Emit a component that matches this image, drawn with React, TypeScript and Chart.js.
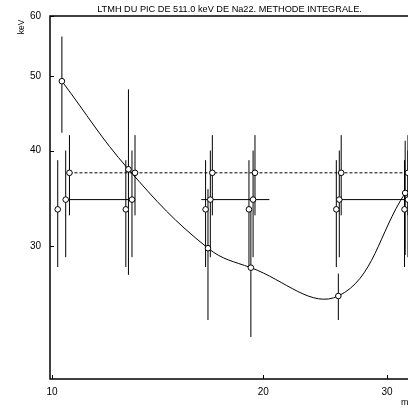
import React, { useEffect, useRef } from "react";
import { Chart, registerables } from "chart.js";

Chart.register(...registerables);

// ---- Text ----
const titleText = "LTMH DU PIC DE 511.0 keV DE Na22. METHODE INTEGRALE.";
const yAxisLabel = "keV";
const xAxisLabel = "m";

// ---- Tick values ----
const xTickValues = [10, 20, 30];
const yTickValues = [30, 40, 50, 60];

// ---- Series A (open circles, no line) ----
const aX = [10.19, 12.74, 16.55, 19.08, 25.41, 31.78];
const aY = [33.5, 33.5, 33.5, 33.5, 33.5, 33.5];
const aErr = [5.35, 5.35, 5.35, 5.35, 5.35, 5.35];

// ---- Series B (open circles, solid segments) ----
const bX = [10.46, 13.0, 16.81, 19.34, 25.66, 32.14];
const bY = [34.5, 34.5, 34.5, 34.5, 34.5, 34.5];
const bErr = [5.5, 5.5, 5.5, 5.5, 5.5, 5.5];
const bSegStart = [10.46, 16.32, 25.66];
const bSegEnd = [13.0, 20.4, 32.14];
const bSegY = [34.5, 34.5, 34.5];

// ---- Series C (open circles, dashed line) ----
const cX = [10.59, 13.13, 16.92, 19.46, 25.82, 32.14];
const cY = [37.4, 37.4, 37.4, 37.4, 37.4, 37.4];
const cErr = [4.5, 4.5, 4.5, 4.5, 4.5, 4.5];

// ---- Series D (open circles, smooth curve) ----
const dX = [10.33, 12.85, 16.68, 19.2, 25.58, 31.85];
const dY = [49.3, 37.8, 29.8, 28.1, 25.8, 35.2];
const dErr = [7.1, 10.3, 5.8, 5.3, 1.8, 6.0];

const FONT = "'Liberation Sans', Arial, Helvetica, sans-serif";

const pts = (xs: number[], ys: number[]) => xs.map((x, i) => ({ x, y: ys[i] }));

export default function App() {
  const ref = useRef<HTMLCanvasElement | null>(null);

  useEffect(() => {
    document.body.style.margin = "0";
    document.body.style.overflow = "hidden";
    const canvas = ref.current;
    if (!canvas) return;

    const errorSets: [number[], number[], number[]][] = [
      [aX, aY, aErr],
      [bX, bY, bErr],
      [cX, cY, cErr],
      [dX, dY, dErr],
    ];

    const errorBars = {
      id: "errorBars",
      beforeDatasetsDraw(chart: any) {
        const { ctx, chartArea } = chart;
        const xs = chart.scales.x;
        const ys = chart.scales.y;
        ctx.save();
        ctx.beginPath();
        ctx.rect(chartArea.left, chartArea.top, chartArea.right - chartArea.left, chartArea.bottom - chartArea.top);
        ctx.clip();
        ctx.strokeStyle = "#000";
        ctx.lineWidth = 1;
        for (const [sx, sy, se] of errorSets) {
          sx.forEach((xv, i) => {
            const px = xs.getPixelForValue(xv);
            ctx.beginPath();
            ctx.moveTo(px, ys.getPixelForValue(sy[i] - se[i]));
            ctx.lineTo(px, ys.getPixelForValue(sy[i] + se[i]));
            ctx.stroke();
          });
        }
        ctx.restore();
      },
    };

    const frame = {
      id: "frame",
      afterDraw(chart: any) {
        const { ctx, chartArea } = chart;
        const xs = chart.scales.x;
        const ys = chart.scales.y;
        ctx.save();
        ctx.strokeStyle = "#000";
        ctx.lineWidth = 1.5;
        ctx.strokeRect(chartArea.left, chartArea.top, chartArea.right - chartArea.left, chartArea.bottom - chartArea.top);
        ctx.lineWidth = 1;
        yTickValues.forEach((v) => {
          const py = Math.round(ys.getPixelForValue(v)) + 0.5;
          ctx.beginPath();
          ctx.moveTo(chartArea.left, py);
          ctx.lineTo(chartArea.left + 4, py);
          ctx.stroke();
        });
        xTickValues.forEach((v) => {
          const px = Math.round(xs.getPixelForValue(v)) + 0.5;
          ctx.beginPath();
          ctx.moveTo(px, chartArea.bottom);
          ctx.lineTo(px, chartArea.bottom - 4);
          ctx.stroke();
        });
        ctx.fillStyle = "#000";
        // title
        ctx.font = `9.2px ${FONT}`;
        ctx.textAlign = "center";
        ctx.textBaseline = "middle";
        ctx.fillText(titleText, 229.5, 9.5);
        // axis titles
        ctx.font = `8.5px ${FONT}`;
        ctx.save();
        ctx.translate(23.5, 27);
        ctx.rotate(-Math.PI / 2);
        ctx.textAlign = "center";
        ctx.textBaseline = "alphabetic";
        ctx.fillText(yAxisLabel, 0, 0);
        ctx.restore();
        ctx.font = `9px ${FONT}`;
        ctx.textAlign = "left";
        ctx.textBaseline = "alphabetic";
        ctx.fillText(xAxisLabel, 401, 405);
        ctx.restore();
      },
    };

    const segData = bSegStart.map((s, i) => [
      { x: s, y: bSegY[i] },
      { x: bSegEnd[i], y: bSegY[i] },
    ]);

    const lineBase = {
      showLine: true,
      borderColor: "#000",
      borderWidth: 1,
      pointRadius: 0,
      pointHoverRadius: 0,
      fill: false,
    };

    const marker = {
      showLine: false,
      pointRadius: 2.8,
      pointBackgroundColor: "#fff",
      pointBorderColor: "#000",
      pointBorderWidth: 1,
    };

    const chart = new Chart(canvas, {
      type: "scatter",
      data: {
        datasets: [
          { ...marker, label: "D", data: pts(dX, dY) },
          { ...marker, label: "C", data: pts(cX, cY) },
          { ...marker, label: "B", data: pts(bX, bY) },
          { ...marker, label: "A", data: pts(aX, aY) },
          { ...lineBase, label: "D curve", data: pts(dX, dY), tension: 0.4 },
          { ...lineBase, label: "C line", data: pts(cX, cY), borderDash: [3, 2] },
          ...segData.map((d, i) => ({ ...lineBase, label: "B seg " + i, data: d })),
        ] as any,
      },
      options: {
        responsive: false,
        animation: false,
        events: [],
        layout: { padding: { left: 0, right: 43, top: 16, bottom: 0 } },
        plugins: {
          legend: { display: false },
          tooltip: { enabled: false },
          title: { display: false },
        },
        scales: {
          x: {
            type: "logarithmic",
            min: 9.935,
            max: 33,
            grid: { display: false, drawTicks: false },
            border: { display: false },
            afterBuildTicks: (s: any) => {
              s.ticks = xTickValues.map((v) => ({ value: v }));
            },
            afterFit: (s: any) => {
              s.height = 29;
            },
            ticks: {
              color: "#000",
              font: { family: FONT, size: 10 },
              padding: 7,
              autoSkip: false,
              maxRotation: 0,
              callback: (v: any) => String(v),
            },
          },
          y: {
            type: "logarithmic",
            min: 20.09,
            max: 60,
            grid: { display: false, drawTicks: false },
            border: { display: false },
            afterBuildTicks: (s: any) => {
              s.ticks = yTickValues.map((v) => ({ value: v }));
            },
            afterFit: (s: any) => {
              s.width = 50;
            },
            ticks: {
              color: "#000",
              font: { family: FONT, size: 10 },
              padding: 9,
              autoSkip: false,
              callback: (v: any) => String(v),
            },
          },
        },
      } as any,
      plugins: [errorBars, frame],
    });

    return () => chart.destroy();
  }, []);

  return (
    <div style={{ position: "fixed", left: 0, top: 0, width: 459, height: 408, background: "#fff" }}>
      <canvas ref={ref} width={459} height={408} style={{ display: "block" }} />
    </div>
  );
}
